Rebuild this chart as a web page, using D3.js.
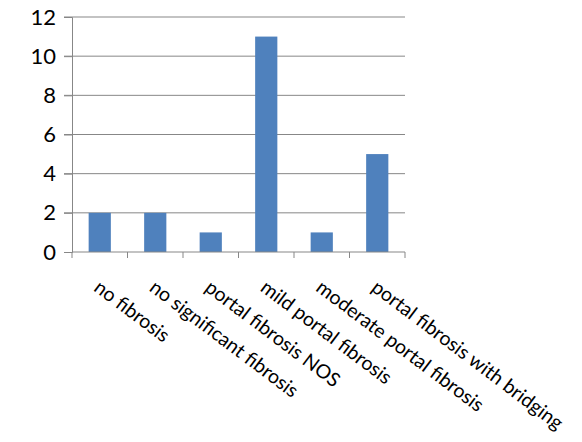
<!DOCTYPE html>
<html>
<head>
<meta charset="utf-8">
<script src="https://cdn.jsdelivr.net/npm/d3@7"></script>
<style>
  body { margin: 0; background: #fff; }
  text { font-family: Lato, "Open Sans", sans-serif; fill: #000; }
</style>
</head>
<body>
<div id="chart"></div>
<script>
const categories = ["no fibrosis", "no significant fibrosis", "portal fibrosis NOS",
  "mild portal fibrosis", "moderate portal fibrosis", "portal fibrosis with bridging"];
const counts = [2, 2, 1, 11, 1, 5];
const yTicks = [0, 2, 4, 6, 8, 10, 12];

const margin = { top: 17, right: 177, bottom: 190, left: 72 };
const width = 582 - margin.left - margin.right;
const height = 442 - margin.top - margin.bottom;

const svg = d3.select("#chart").append("svg")
    .attr("width", 582)
    .attr("height", 442);
const g = svg.append("g")
    .attr("transform", `translate(${margin.left},${margin.top})`);

const x = d3.scaleBand().domain(categories).range([0, width])
    .paddingInner(0.6).paddingOuter(0.3);
const y = d3.scaleLinear().domain([0, 12]).range([height, 0]);

// gridlines
g.selectAll(".grid")
  .data(yTicks.filter(d => d > 0))
  .enter().append("line")
  .attr("x1", -8).attr("x2", width)
  .attr("y1", d => y(d)).attr("y2", d => y(d))
  .attr("stroke", "#878787").attr("stroke-width", 1);

// bars
g.selectAll(".bar")
  .data(counts)
  .enter().append("rect")
  .attr("x", (d, i) => x(categories[i]))
  .attr("y", d => y(d))
  .attr("width", x.bandwidth())
  .attr("height", d => height - y(d))
  .attr("fill", "#4F81BD");

// y axis
const yAxis = d3.axisLeft(y).tickValues(yTicks).tickSize(8).tickPadding(8);
const yg = g.append("g").call(yAxis);
yg.select(".domain").attr("stroke", "#878787");
yg.selectAll(".tick line").attr("stroke", "#878787");
yg.selectAll(".tick text").style("font-size", "22px");

// x axis: ticks at category boundaries
const step = x.step();
const xg = g.append("g").attr("transform", `translate(0,${height})`);
xg.append("line").attr("x1", 0).attr("x2", width)
  .attr("stroke", "#878787");
xg.selectAll(".xtick")
  .data(d3.range(categories.length + 1))
  .enter().append("line")
  .attr("x1", d => d * step).attr("x2", d => d * step)
  .attr("y1", 0).attr("y2", 6)
  .attr("stroke", "#878787");

xg.selectAll(".xlabel")
  .data(categories)
  .enter().append("text")
  .attr("transform", d => `translate(${x(d) + x.bandwidth() / 2 - 7},${38}) rotate(37)`)
  .style("font-size", "19.5px")
  .text(d => d);
</script>
</body>
</html>
